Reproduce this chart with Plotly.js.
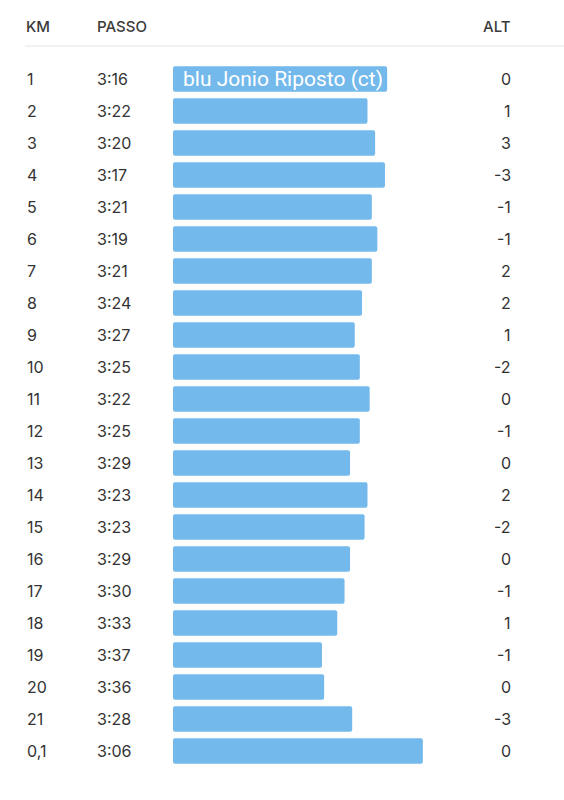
<!DOCTYPE html>
<html>
<head>
<meta charset="utf-8">
<script src="https://cdn.plot.ly/plotly-3.0.1.min.js"></script>
<style>
  html, body { margin: 0; padding: 0; background: #fff; }
  #chart { width: 564px; height: 800px; }
</style>
</head>
<body>
<div id="chart"></div>
<script>
// splits, one row per km
var km = ["1","2","3","4","5","6","7","8","9","10","11","12","13","14","15","16","17","18","19","20","21","0,1"];
var passo = ["3:16","3:22","3:20","3:17","3:21","3:19","3:21","3:24","3:27","3:25","3:22","3:25","3:29","3:23","3:23","3:29","3:30","3:33","3:37","3:36","3:28","3:06"];
// speed in km/h
var speed = [18.38,17.84,18.05,18.32,17.96,18.11,17.96,17.69,17.49,17.63,17.90,17.63,17.36,17.84,17.76,17.36,17.21,17.01,16.59,16.65,17.42,19.36];
var alt = [0,1,3,-3,-1,-1,2,2,1,-2,0,-1,0,2,-2,0,-1,1,-1,0,-3,0];
var barLabel = "blu Jonio Riposto (ct)";

var W = 564, H = 800;
var px = function(x){ return x / W; };
var py = function(y){ return 1 - y / H; };

var speedMin = 12.5;
var pxPerKmh = 36.42;
var plotLeft = 173, plotRight = 470;

// row index used as y so annotations line up with the category slots
var rows = km.map(function(k, i){ return i; });

var trace = {
  type: 'bar',
  orientation: 'h',
  y: rows,
  x: speed.map(function(s){ return s - speedMin; }),
  base: speedMin,
  marker: {color: '#74b9eb', cornerradius: 2},
  hoverinfo: 'none'
};

var rowFont = {family: 'Inter, "Noto Sans", sans-serif', size: 16, color: '#333333'};
var headFont = {family: 'Inter, "Noto Sans", sans-serif', size: 15, color: '#3a3a3a', weight: 500};

var annotations = [];
rows.forEach(function(r, i){
  annotations.push({xref: 'paper', yref: 'y', x: px(25), y: r, text: km[i],
    xanchor: 'left', yanchor: 'middle', showarrow: false, font: rowFont});
  annotations.push({xref: 'paper', yref: 'y', x: px(95), y: r, text: passo[i],
    xanchor: 'left', yanchor: 'middle', showarrow: false, font: rowFont});
  annotations.push({xref: 'paper', yref: 'y', x: px(513), y: r, text: String(alt[i]),
    xanchor: 'right', yanchor: 'middle', showarrow: false, font: rowFont});
});
[["KM", 24, 'left'], ["PASSO", 95, 'left'], ["ALT", 513, 'right']].forEach(function(h){
  annotations.push({xref: 'paper', yref: 'paper', x: px(h[1]), y: py(27), text: h[0],
    xanchor: h[2], yanchor: 'middle', showarrow: false, font: headFont});
});
// name label sitting in the first bar
annotations.push({xref: 'x', yref: 'y', x: speedMin, y: 0, xshift: 8, text: barLabel,
  xanchor: 'left', yanchor: 'middle', showarrow: false,
  font: {family: 'Roboto, sans-serif', size: 21, color: '#ffffff'}});

var layout = {
  width: W, height: H,
  margin: {l: 0, r: 0, t: 0, b: 0},
  paper_bgcolor: '#ffffff',
  plot_bgcolor: '#ffffff',
  showlegend: false,
  bargap: 0.2,
  xaxis: {
    domain: [px(plotLeft), px(plotRight)],
    range: [speedMin, speedMin + (plotRight - plotLeft) / pxPerKmh],
    visible: false, fixedrange: true
  },
  yaxis: {
    domain: [py(767), py(63)],
    range: [21.5, -0.5],
    visible: false, fixedrange: true
  },
  shapes: [{type: 'line', xref: 'paper', yref: 'paper',
    x0: px(25), x1: 1, y0: py(46), y1: py(46),
    line: {color: '#e6e6e6', width: 1}}],
  annotations: annotations
};

Plotly.newPlot('chart', [trace], layout, {staticPlot: true, displayModeBar: false});
</script>
</body>
</html>
